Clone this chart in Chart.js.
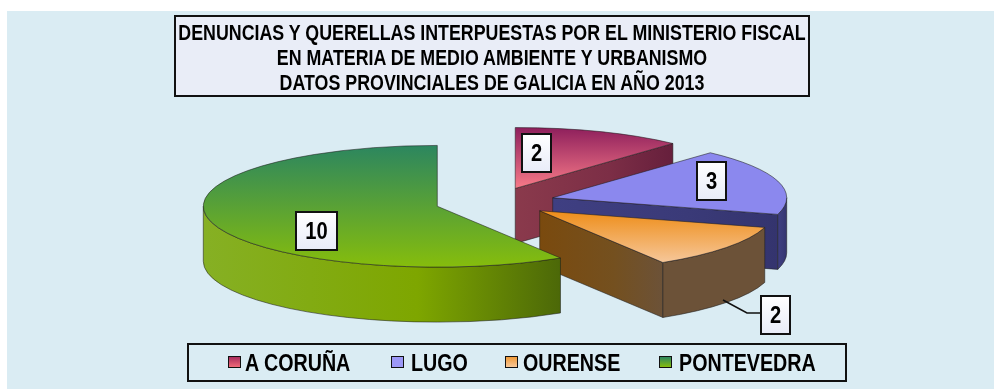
<!DOCTYPE html>
<html>
<head>
<meta charset="utf-8">
<script src="https://cdn.jsdelivr.net/npm/chart.js@4"></script>
<style>
  html, body { margin: 0; padding: 0; background: #fff; }
  #wrap { position: relative; width: 994px; height: 389px; overflow: hidden; }
  #bg { position: absolute; left: 7px; top: 11px; right: 0; bottom: 0; background: #daecf3; }
  #pie-chart { position: absolute; left: 0; top: 0; }
  .txt { font-family: "Liberation Sans", Arial, sans-serif; font-weight: bold; color: #000; }
  #title-box { position: absolute; left: 174px; top: 15px; width: 632px; height: 75px; border: 2px solid #111;
    background: #e9edf7; text-align: center; font-size: 22px; line-height: 25px; padding-top: 3px; white-space: nowrap; }
  #title-box div { margin: 0 -100px; transform: scaleX(0.81); transform-origin: center; }
  #legend-box { position: absolute; left: 187px; top: 343px; width: 656px; height: 35px; border: 2px solid #111; }
  .item { position: absolute; top: -1px; font-size: 24px; line-height: 38px; white-space: nowrap; transform: scaleX(0.82); transform-origin: left; }
  .swatch { position: absolute; width: 11px; height: 10px; top: 11px; border: 1px solid #111; }
</style>
</head>
<body>
<div id="wrap">
  <div id="bg"></div>
  <canvas id="pie-chart" width="994" height="389"></canvas>
  <div id="title-box" class="txt"></div>
  <div id="legend-box" class="txt"></div>
</div>
<script>
const titleLines = [
  "DENUNCIAS Y QUERELLAS INTERPUESTAS POR EL MINISTERIO FISCAL",
  "EN MATERIA DE MEDIO AMBIENTE Y URBANISMO",
  "DATOS PROVINCIALES DE GALICIA EN AÑO 2013"
];
const provinces = ["A CORUÑA", "LUGO", "OURENSE", "PONTEVEDRA"];
const cases = [2, 3, 2, 10];

// look of each slice: top face goes top->bottom, walls go left->right
const topColors = [["#8e1f5c", "#f87a88"], ["#8b88ee", "#8b88ee"], ["#ee8d18", "#f6c79a"], ["#2c865f", "#86bd0c"]];
const edgeWallColors = [["#8a3a4c", "#7c2e46", "#661f3c"], ["#3f3f82", "#3a3a78", "#34346e"], ["#7a4a0e", "#74501f", "#6c5238"], ["#84b018", "#84b018", "#84b018"]];
const outerWallColors = [["#8a3a4c", "#8a3a4c", "#8a3a4c"], ["#3f3f82", "#3a3a78", "#34346e"], ["#6c5238", "#6c5238", "#6c5238"], ["#86b024", "#7ea600", "#4c6808"]];
const swatchCss = ["#a82c5c,#f06a78", "#9c98f6,#9c98f6", "#f09a38,#f8c898", "#2c865f,#86bd0c"];
const legendLeft = [228, 391, 505, 659];
const legendTextLeft = [245, 411, 523, 679];

// where the value boxes sit and how wide they are
const labelBoxes = [[522, 134, 29], [697, 162, 29], [761, 296, 29], [296, 212, 41]];
const leaderLine = [[723, 300], [747, 313], [761, 313]];

const SQUASH = 0.26;
const DEPTH = 55;
const explode = [56, 60, 56, 60];

document.getElementById("title-box").innerHTML = titleLines.map((t) => `<div>${t}</div>`).join("");
const legendBox = document.getElementById("legend-box");
provinces.forEach((name, i) => {
  const swatch = document.createElement("div");
  swatch.className = "swatch";
  swatch.style.left = (legendLeft[i] - 189) + "px";
  swatch.style.background = `linear-gradient(to bottom, ${swatchCss[i]})`;
  legendBox.appendChild(swatch);
  const item = document.createElement("div");
  item.className = "item";
  item.style.left = (legendTextLeft[i] - 189) + "px";
  item.textContent = name;
  legendBox.appendChild(item);
});

function fillAndStroke(ctx, fill) {
  ctx.fillStyle = fill;
  ctx.fill();
  ctx.strokeStyle = "rgba(30,30,30,0.55)";
  ctx.lineWidth = 1;
  ctx.stroke();
}

function wallGradient(ctx, x0, x1, colors) {
  const g = ctx.createLinearGradient(x0, 0, x1, 0);
  g.addColorStop(0, colors[0]);
  g.addColorStop(0.6, colors[1]);
  g.addColorStop(1, colors[2]);
  return g;
}

function drawSlice(ctx, arc, i) {
  const { x, y, startAngle, endAngle, outerRadius: r } = arc.getProps(["x", "y", "startAngle", "endAngle", "outerRadius"]);
  const mid = (startAngle + endAngle) / 2;
  const cx = x + Math.cos(mid) * explode[i];
  const cy = y + Math.sin(mid) * explode[i] * SQUASH;
  const px = (a) => cx + Math.cos(a) * r;
  const py = (a) => cy + Math.sin(a) * r * SQUASH;

  // radial wall under the end edge, only when it faces us
  if (Math.cos(endAngle) > 0.001) {
    ctx.beginPath();
    ctx.moveTo(cx, cy);
    ctx.lineTo(px(endAngle), py(endAngle));
    ctx.lineTo(px(endAngle), py(endAngle) + DEPTH);
    ctx.lineTo(cx, cy + DEPTH);
    ctx.closePath();
    fillAndStroke(ctx, wallGradient(ctx, cx, px(endAngle), edgeWallColors[i]));
  }
  // outer wall, front half of the ellipse only
  const from = Math.max(startAngle, 0);
  const to = Math.min(endAngle, Math.PI);
  if (to > from) {
    ctx.beginPath();
    ctx.ellipse(cx, cy, r, r * SQUASH, 0, from, to);
    ctx.lineTo(px(to), py(to) + DEPTH);
    ctx.ellipse(cx, cy + DEPTH, r, r * SQUASH, 0, to, from, true);
    ctx.closePath();
    fillAndStroke(ctx, wallGradient(ctx, px(to), px(from), outerWallColors[i]));
  }
  // top face, gradient over the slice's own height
  let minY = Math.min(cy, py(startAngle), py(endAngle));
  let maxY = Math.max(cy, py(startAngle), py(endAngle));
  if (endAngle >= Math.PI * 1.5 - 0.001 || startAngle <= -Math.PI / 2 + 0.001) minY = cy - r * SQUASH;
  if (startAngle <= Math.PI / 2 && endAngle >= Math.PI / 2) maxY = cy + r * SQUASH;
  const top = ctx.createLinearGradient(0, minY, 0, maxY);
  top.addColorStop(0, topColors[i][0]);
  top.addColorStop(1, topColors[i][1]);
  ctx.beginPath();
  ctx.moveTo(cx, cy);
  ctx.ellipse(cx, cy, r, r * SQUASH, 0, startAngle, endAngle);
  ctx.closePath();
  fillAndStroke(ctx, top);
}

const pie3d = {
  id: "pie3d",
  beforeDatasetDraw(chart, args) {
    const ctx = chart.ctx;
    ctx.save();
    args.meta.data.forEach((arc, i) => drawSlice(ctx, arc, i));
    ctx.restore();
    return false;
  },
  afterDatasetsDraw(chart) {
    const ctx = chart.ctx;
    ctx.save();
    ctx.strokeStyle = "#111";
    ctx.lineWidth = 1.5;
    ctx.beginPath();
    leaderLine.forEach((p, k) => k ? ctx.lineTo(p[0], p[1]) : ctx.moveTo(p[0], p[1]));
    ctx.stroke();
    cases.forEach((value, i) => {
      const [bx, by, bw] = labelBoxes[i];
      const bh = 38;
      const g = ctx.createLinearGradient(0, by, 0, by + bh);
      g.addColorStop(0, "#ffffff");
      g.addColorStop(1, "#e8ecf8");
      ctx.fillStyle = g;
      ctx.fillRect(bx, by, bw, bh);
      ctx.strokeStyle = "#111";
      ctx.lineWidth = 2;
      ctx.strokeRect(bx, by, bw, bh);
      ctx.save();
      ctx.translate(bx + bw / 2, by + bh / 2 + 1);
      ctx.scale(0.84, 1);
      ctx.fillStyle = "#000";
      ctx.font = 'bold 24px "Liberation Sans", Arial, sans-serif';
      ctx.textAlign = "center";
      ctx.textBaseline = "middle";
      ctx.fillText(String(value), 0, 0);
      ctx.restore();
    });
    ctx.restore();
  }
};

new Chart(document.getElementById("pie-chart"), {
  type: "pie",
  data: {
    labels: provinces,
    datasets: [{ data: cases, backgroundColor: "rgba(0,0,0,0)", borderWidth: 0 }]
  },
  options: {
    responsive: false,
    animation: false,
    events: [],
    radius: 234,
    layout: { padding: { top: 15, right: 4 } },
    plugins: { legend: { display: false }, title: { display: false }, tooltip: { enabled: false } }
  },
  plugins: [pie3d]
});
</script>
</body>
</html>
